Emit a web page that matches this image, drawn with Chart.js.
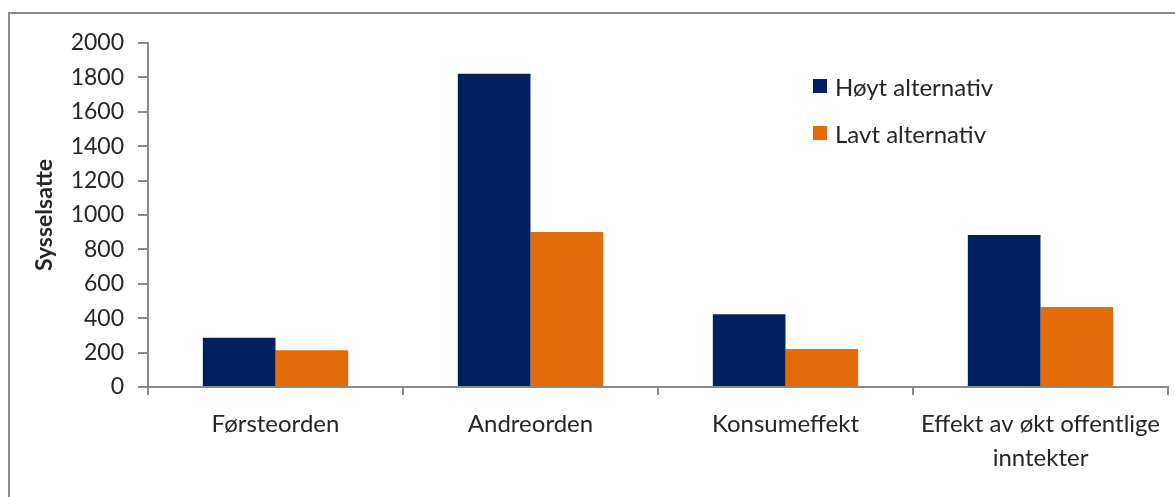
<!DOCTYPE html>
<html>
<head>
<meta charset="utf-8">
<script src="https://cdn.jsdelivr.net/npm/chart.js@4"></script>
<style>
  html, body { margin: 0; padding: 0; background: #fff; overflow: hidden; }
  #wrap { position: relative; width: 1175px; height: 497px; }
  #frame { position: absolute; left: 8px; top: 12px; width: 1200px; height: 520px;
           border: 2px solid #8a8a8a; box-sizing: border-box; }
  #canvas { position: absolute; left: 0; top: 0; }
  #legend { position: absolute; left: 813px; top: 72px; font-family: Lato, sans-serif;
            font-size: 24px; color: #262626; }
  .item { display: flex; align-items: center; height: 28px; margin-bottom: 19px; }
  .box { width: 14px; height: 14px; margin-right: 8px; }
</style>
</head>
<body>
<div id="wrap">
  <div id="frame"></div>
  <canvas id="canvas" width="1175" height="497"></canvas>
  <div id="legend"></div>
</div>
<script>
  // - EMPLOYMENT EFFECTS CHART -

  const categories = ['Førsteorden', 'Andreorden', 'Konsumeffekt', ['Effekt av økt offentlige', 'inntekter']];
  const seriesNames = ['Høyt alternativ', 'Lavt alternativ'];
  const hoyt = [287, 1821, 423, 884];
  const lavt = [213, 901, 221, 465];
  const yTicks = [0, 200, 400, 600, 800, 1000, 1200, 1400, 1600, 1800, 2000];

  const colors = ['#002060', '#E36C09'];
  const axisGrey = '#8a8a8a';
  const textColor = '#262626';

  const ctx = document.getElementById('canvas').getContext('2d');

  const myChart = new Chart(ctx, {
    type: 'bar',
    data: {
      labels: categories,
      datasets: [{
        label: seriesNames[0],
        data: hoyt,
        backgroundColor: colors[0],
        borderWidth: 0
      },
      {
        label: seriesNames[1],
        data: lavt,
        backgroundColor: colors[1],
        borderWidth: 0
      }]
    },
    options: {
      responsive: false,
      animation: false,
      layout: { padding: { left: 20, top: 43, right: 7, bottom: 0 } },
      datasets: { bar: { categoryPercentage: 0.57, barPercentage: 1 } },
      plugins: {
        legend: { display: false },
        tooltip: { enabled: false }
      },
      scales: {
        x: {
          grid: { display: true, offset: true, drawOnChartArea: false, color: axisGrey, tickLength: 8, lineWidth: 2 },
          border: { color: axisGrey, width: 2 },
          ticks: {
            color: textColor,
            font: { family: 'Lato', size: 24, lineHeight: 1.42 },
            padding: 12,
            maxRotation: 0,
            autoSkip: false
          },
          afterFit: (scale) => { scale.height = 110; }
        },
        y: {
          min: 0,
          max: 2000,
          afterBuildTicks: (scale) => { scale.ticks = yTicks.map(v => ({ value: v })); },
          grid: { display: true, drawOnChartArea: false, color: axisGrey, tickLength: 10, lineWidth: 2 },
          border: { color: axisGrey, width: 2 },
          ticks: {
            color: textColor,
            font: { family: 'Lato', size: 23 },
            padding: 14,
            callback: (v) => String(v)
          },
          title: {
            display: true,
            text: 'Sysselsatte',
            color: textColor,
            font: { family: 'Lato', size: 23, weight: 'bold' },
            padding: { top: 11, bottom: 0 }
          },
          afterFit: (scale) => { scale.width = 128; }
        }
      }
    }
  });

  // legend drawn as html next to the chart
  const legendEl = document.getElementById('legend');
  myChart.data.datasets.forEach(ds => {
    const item = document.createElement('div');
    item.className = 'item';
    item.innerHTML = '<span class="box" style="background:' + ds.backgroundColor + '"></span>' + ds.label;
    legendEl.appendChild(item);
  });
</script>
</body>
</html>
